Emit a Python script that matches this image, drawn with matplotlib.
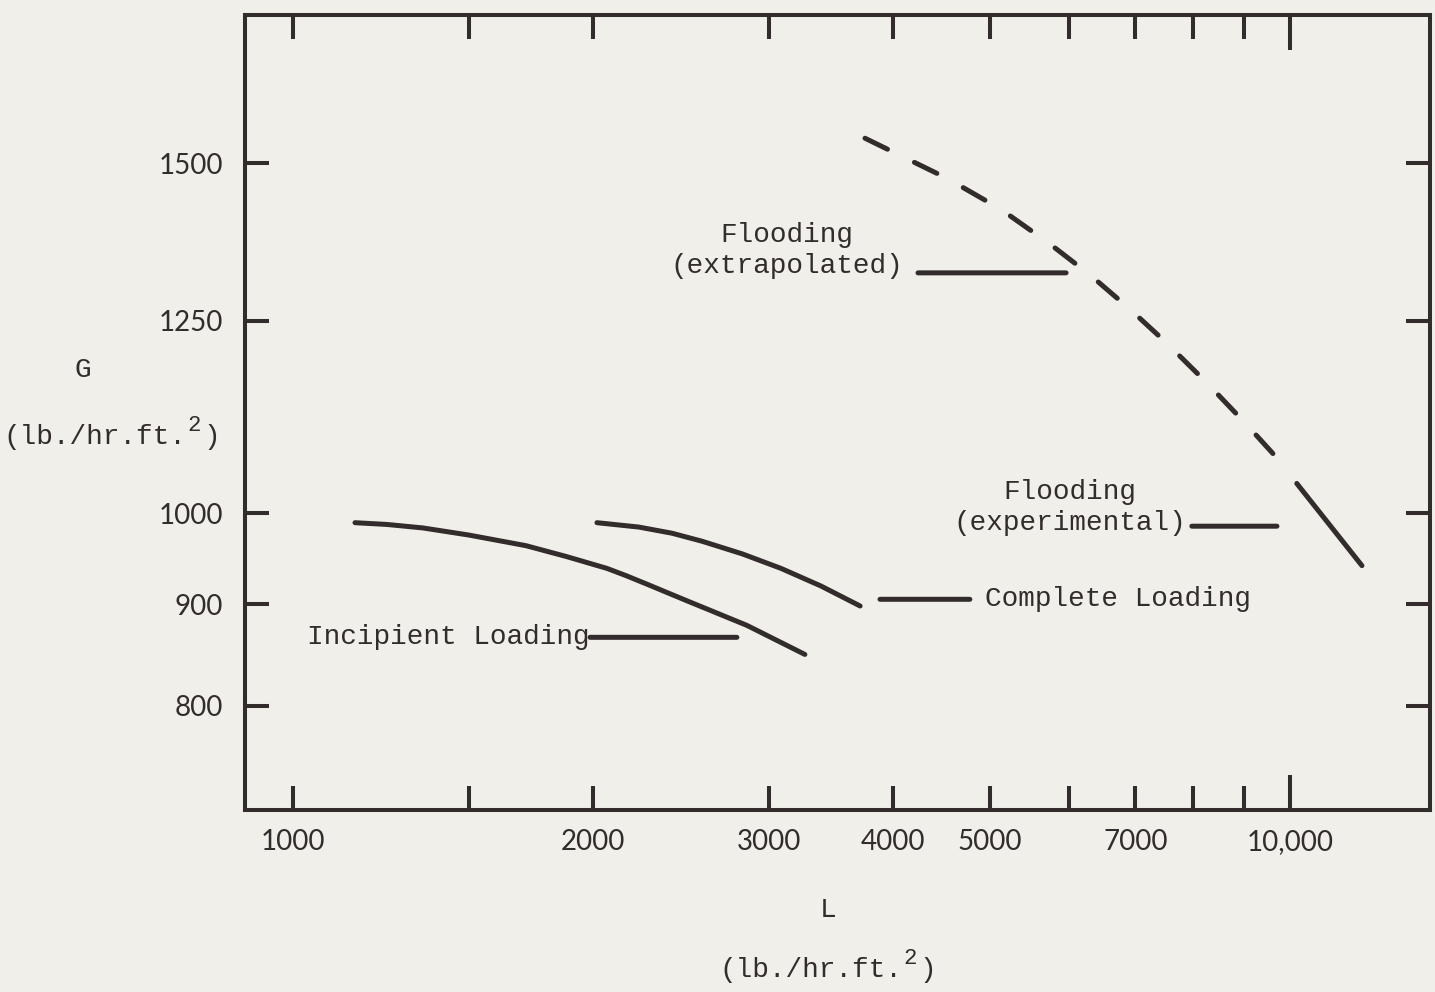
import matplotlib.pyplot as plt
from matplotlib.ticker import FixedLocator, FuncFormatter, NullLocator
from matplotlib.transforms import offset_copy

# incipient loading
inc_L = [1154, 1242, 1350, 1500, 1713, 1880, 2065, 2160, 2265, 2490, 2854, 3262]
inc_G = [989, 987, 983, 975, 963, 951, 938, 930, 921, 903, 878, 849]

# complete loading
comp_L = [2018, 2223, 2400, 2572, 2821, 3087, 3386, 3706]
comp_G = [989, 984, 977, 968, 954, 938, 919, 898]

# flooding, extrapolated
fext_L = [3748, 4529, 5129, 5733, 6301, 6894, 7508, 8254, 9034, 9705]
fext_G = [1544, 1474, 1422, 1367, 1318, 1268, 1219, 1163, 1109, 1066]

# flooding, experimental
fexp_L = [10160, 11810]
fexp_G = [1035, 941]

x_minor = [1000, 1500, 2000, 3000, 4000, 5000, 6000, 7000, 8000, 9000]
x_major = [10000]
x_labels = {1000: '1000', 2000: '2000', 3000: '3000', 4000: '4000',
            5000: '5000', 7000: '7000', 10000: '10,000'}
y_ticks = [800, 900, 1000, 1250, 1500]

paper = '#f0efea'
ink = '#332c2c'
mono = 'Liberation Mono'
fs = 20

plt.rcParams['lines.scale_dashes'] = False

fig = plt.figure(figsize=(14.35, 9.92), dpi=100, facecolor=paper)
ax = fig.add_axes([0.1707, 0.1835, 0.8258, 0.8014], facecolor=paper)
ax.set_xscale('log')
ax.set_yscale('log')
ax.set_xlim(895, 13820)
ax.set_ylim(709, 1781)

lw = 3.6
style = dict(color=ink, lw=lw, solid_capstyle='round', solid_joinstyle='round')
ax.plot(inc_L, inc_G, **style)
ax.plot(comp_L, comp_G, **style)
ax.plot(fext_L, fext_G, color=ink, lw=lw, dashes=(18, 21.6),
        dash_capstyle='round')
ax.plot(fexp_L, fexp_G, **style)

# axes frame and ticks
for sp in ax.spines.values():
    sp.set_linewidth(2.9)
    sp.set_color(ink)

ax.xaxis.set_major_locator(FixedLocator(x_major))
ax.xaxis.set_minor_locator(FixedLocator(x_minor))
fmt_x = FuncFormatter(lambda v, p: x_labels.get(int(round(v)), ''))
ax.xaxis.set_major_formatter(fmt_x)
ax.xaxis.set_minor_formatter(fmt_x)
ax.yaxis.set_major_locator(FixedLocator(y_ticks))
ax.yaxis.set_minor_locator(NullLocator())
ax.yaxis.set_major_formatter(FuncFormatter(lambda v, p: f'{v:.0f}'))

ax.tick_params(which='both', direction='in', top=True, right=True,
               color=ink, width=2.9, labelcolor=ink, labelsize=20)
ax.tick_params(axis='x', which='minor', length=17, pad=14)
ax.tick_params(axis='x', which='major', length=25, pad=14)
ax.tick_params(axis='y', which='major', length=17, pad=16)
for lab in ax.get_xticklabels(which='both') + ax.get_yticklabels():
    lab.set_family('Lato')

# curve labels with leader lines
txt = dict(family=mono, fontsize=fs, color=ink)
lead = dict(arrowstyle='-', lw=lw, color=ink, shrinkA=0, shrinkB=0,
            capstyle='round')

ax.text(3130, 1355, 'Flooding\n(extrapolated)', ha='center', va='center',
        linespacing=1.25, **txt)
ax.annotate('', xy=(5963, 1321), xytext=(4236, 1321), arrowprops=lead)

ax.text(6018, 1007, 'Flooding\n(experimental)', ha='center', va='center',
        linespacing=1.25, **txt)
ax.annotate('', xy=(9705, 985), xytext=(7973, 985), arrowprops=lead)

ax.text(4943, 905, 'Complete Loading', ha='left', va='center', **txt)
ax.annotate('', xy=(3880, 905), xytext=(4775, 905), arrowprops=lead)

ax.text(1986, 866, 'Incipient Loading', ha='right', va='center', **txt)
ax.annotate('', xy=(2788, 866), xytext=(1986, 866), arrowprops=lead)


def units_label(x, y):
    # "(lb./hr.ft." + raised "2" + ")", laid out on the monospace grid
    adv = 0.6 * fs
    left = -6.5 * adv

    def at(dx, dy=0):
        return offset_copy(fig.transFigure, fig=fig, units='points', x=dx, y=dy)

    fig.text(x, y, '(lb./hr.ft.', transform=at(left), ha='left', va='center',
             **txt)
    fig.text(x, y, '2', transform=at(left + 11 * adv, 8), ha='left',
             va='center', family=mono, fontsize=fs * 0.8, color=ink)
    fig.text(x, y, ')', transform=at(left + 12 * adv), ha='left',
             va='center', **txt)


# axis titles
fig.text(0.0578, 0.627, 'G', ha='center', va='center', **txt)
units_label(0.078, 0.5595)
fig.text(0.577, 0.0827, 'L', ha='center', va='center', **txt)
units_label(0.577, 0.0222)

fig.savefig('out.png', dpi=100, facecolor=paper)
